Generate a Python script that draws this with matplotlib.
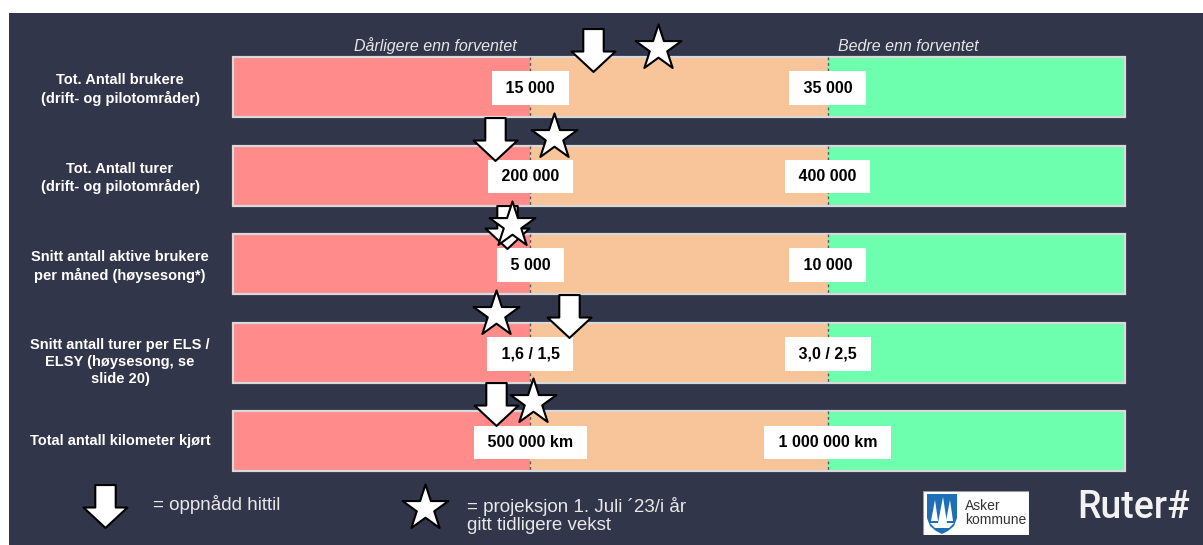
import numpy as np
import matplotlib.pyplot as plt
from matplotlib.path import Path
from matplotlib.patches import Rectangle, Polygon

plt.rcParams['font.family'] = ['Liberation Sans', 'DejaVu Sans']

# --- data -------------------------------------------------------------
indicators = [
    "Tot. Antall brukere\n(drift- og pilotområder)",
    "Tot. Antall turer\n(drift- og pilotområder)",
    "Snitt antall aktive brukere\nper måned (høysesong*)",
    "Snitt antall turer per ELS /\nELSY (høysesong, se\nslide 20)",
    "Total antall kilometer kjørt",
]
low_labels = ["15 000", "200 000", "5 000", "1,6 / 1,5", "500 000 km"]
high_labels = ["35 000", "400 000", "10 000", "3,0 / 2,5", "1 000 000 km"]
# position on the band scale: 0-1 worse, 1-2 expected, 2-3 better
achieved_pos = [1.21, 0.88, 0.92, 1.13, 0.885]
projected_pos = [1.43, 1.08, 0.94, 0.885, 1.01]

# --- styling ----------------------------------------------------------
NAVY = '#31364a'
band_colors = ['#ff8b8b', '#f8c59b', '#6dffae']
W, H = 1203, 545
X0, UNIT = 233, (1125 - 233) / 3
Y0, STEP = 87, 88.6


def px(x, y):
    """pixel position (from top-left) -> data coordinates"""
    return (x - X0) / UNIT, (y - Y0) / STEP


fig = plt.figure(figsize=(W / 100, H / 100), dpi=100)
fig.patch.set_facecolor('white')

# dark slide background, in its own axes at the bottom of the stack
bg = fig.add_axes([9 / W, 0, 1 - 9 / W, 1 - 13 / H], zorder=-5)
bg.set_facecolor(NAVY)
bg.set_xticks([])
bg.set_yticks([])
for s in bg.spines.values():
    s.set_visible(False)

ax = fig.add_axes([0, 0, 1, 1])
ax.set_facecolor('none')
ax.axis('off')
ax.set_xlim(-X0 / UNIT, (W - X0) / UNIT)
ax.set_ylim((H - Y0) / STEP, -Y0 / STEP)

rows = np.arange(len(indicators))
bh = 60 / STEP

# coloured bands
for k, c in enumerate(band_colors):
    ax.barh(rows, 1, left=k, height=bh, color=c, linewidth=0, zorder=1)
ax.barh(rows, 3, left=0, height=bh, fill=False, edgecolor='#d9d9d9', linewidth=1.6, zorder=2)
for i in rows:
    ax.vlines([1, 2], i - bh / 2, i + bh / 2, colors='#5a5a5a', linestyles=(0, (2, 2)),
              linewidth=1, zorder=2)

# threshold labels
box = dict(boxstyle='square,pad=0.58', fc='white', ec='none')
for i in rows:
    ax.text(1, i + 1 / STEP, f' {low_labels[i]} ', ha='center', va='center', fontsize=11.5,
            fontweight='bold', color='black', bbox=box, zorder=3)
    ax.text(2, i + 1 / STEP, f' {high_labels[i]} ', ha='center', va='center', fontsize=11.5,
            fontweight='bold', color='black', bbox=box, zorder=3)

# indicator names
offsets = {1: 0, 2: 2.5, 3: 9}
for i, name in enumerate(indicators):
    n = name.count('\n') + 1
    ax.text(px(120, 0)[0], i + offsets[n] / STEP, name, ha='center', va='center',
            fontsize=10.5, fontweight='bold', color='white', linespacing=1.3)

# headers
ax.text(*px(435, 46), 'Dårligere enn forventet', ha='center', va='center',
        fontsize=11.5, style='italic', color='#e6e6e6')
ax.text(*px(908, 46), 'Bedre enn forventet', ha='center', va='center',
        fontsize=11.5, style='italic', color='#e6e6e6')

# block arrow marker
arrow = Path([(-10, 21), (10, 21), (10, -1), (21.5, -1), (0, -21), (-21.5, -1), (-10, -1), (-10, 21)],
             [Path.MOVETO] + [Path.LINETO] * 6 + [Path.CLOSEPOLY])
ARROW_S, STAR_S = 1000, 1200

ax.scatter(achieved_pos, rows - 37 / STEP, marker=arrow, s=ARROW_S, facecolor='white',
           edgecolor='black', linewidth=1.5, zorder=5)
ax.scatter(projected_pos, rows - 39 / STEP, marker='*', s=STAR_S, facecolor='white',
           edgecolor='black', linewidth=1.5, zorder=6)

# legend
ax.scatter(*px(104.5, 506), marker=arrow, s=ARROW_S, facecolor='white',
           edgecolor='black', linewidth=1.5, zorder=5)
ax.scatter(*px(425, 508), marker='*', s=STAR_S, facecolor='white',
           edgecolor='black', linewidth=1.5, zorder=5)
ax.text(*px(153, 505), '= oppnådd hittil', ha='left', va='center', fontsize=13.5, color='#e8e8e8')
ax.text(*px(467, 515.5), '= projeksjon 1. Juli ´23/i år\ngitt tidligere vekst', ha='left',
        va='center', fontsize=13.5, color='#e8e8e8', linespacing=1.12)

# Asker kommune logo
lax = fig.add_axes([923 / W, 1 - 535 / H, 106 / W, 44 / H])
lax.set_xlim(0, 106)
lax.set_ylim(44, 0)
lax.axis('off')
lax.add_patch(Rectangle((0, 0), 106, 44, fc='white', ec='#9a9a9a', lw=0.8))
lax.add_patch(Polygon([(4, 3), (34, 3), (34, 27), (31, 35), (25, 40), (19, 43),
                       (13, 40), (7, 35), (4, 27)], fc='#1f6fb8', ec='none'))
for sail in ([(12, 9), (15, 30), (8, 30)], [(20, 6), (24, 32), (15, 32)],
             [(27, 9), (30, 30), (23, 30)], [(7, 32), (31, 32), (26, 37), (12, 37)]):
    lax.add_patch(Polygon(sail, fc='white', ec='none'))
lax.text(42, 15, 'Asker', fontsize=10, color='#333333', va='center')
lax.text(42, 29, 'kommune', fontsize=10, color='#333333', va='center')

fig.text(1077 / W, 1 - 508 / H, 'Ruter#', fontsize=27, color='#f2f2f2', va='center',
         ha='left', family='Roboto', fontweight='medium')

fig.savefig('out.png', dpi=100)
